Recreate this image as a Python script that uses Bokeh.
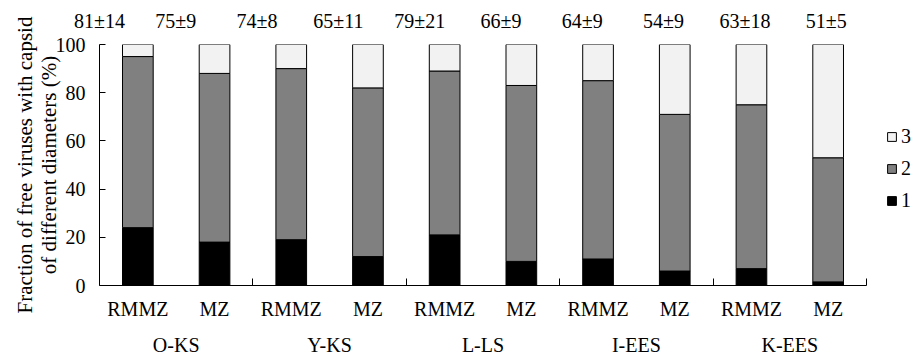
from bokeh.plotting import figure
from bokeh.models import (ColumnDataSource, FixedTicker, LinearAxis, Range1d,
                          Legend, LegendItem)
from bokeh.embed import file_html
from bokeh.resources import INLINE

# ---- data ----
groups = ["O-KS", "Y-KS", "L-LS", "I-EES", "K-EES"]
subs = ["RMMZ", "MZ"]
size1 = [24, 18, 19, 12, 21, 10, 11, 6, 7, 1.5]
size2 = [71, 70, 71, 70, 68, 73, 74, 65, 68, 51.5]
size3 = [5, 12, 10, 18, 11, 17, 15, 29, 25, 47]
top_labels = ["81±14", "75±9", "74±8", "65±11", "79±21",
              "66±9", "64±9", "54±9", "63±18", "51±5"]
y_ticks = [0, 20, 40, 60, 80, 100]

FONT = "Liberation Serif"
FS = "20px"
n = len(size1)
xs = [i + 0.5 for i in range(n)]
cats = [subs[i % 2] for i in range(n)]

src = ColumnDataSource(dict(x=xs, s1=size1, s2=size2, s3=size3))

# layout: bars occupy 767 px of the frame; the rest hosts the legend
W, H = 915, 358
BL, BT, BB = 99, 44, 72
frame_w = W - BL
bars_w = 767
x_end = n * frame_w / bars_w
# the mean±sd labels sit on their own evenly spaced scale above the frame
pitch = 81.3
top_start = 5 / pitch
top_end = top_start + frame_w / pitch

p = figure(width=W, height=H, output_backend="svg", toolbar_location=None,
           x_range=Range1d(0, x_end), y_range=Range1d(0, 100),
           min_border_left=BL, min_border_right=0, min_border_top=BT,
           min_border_bottom=BB)
p.extra_x_ranges = {"top": Range1d(top_start, top_end)}
p.outline_line_color = None
p.xgrid.visible = False
p.ygrid.visible = False
p.background_fill_color = "white"

rs = p.vbar_stack(["s1", "s2", "s3"], x="x", width=0.4, source=src,
                  color=["#000000", "#808080", "#f2f2f2"],
                  line_color="black", line_width=1)

# y axis
ya = p.yaxis[0]
ya.ticker = FixedTicker(ticks=y_ticks)
ya.major_tick_in = 6
ya.major_tick_out = 0
ya.minor_tick_line_color = None
ya.axis_line_color = "black"
ya.major_label_text_font = FONT
ya.major_label_text_font_size = FS
ya.major_label_text_color = "black"
ya.major_label_standoff = 14
ya.axis_label = "Fraction of free viruses with capsid\nof different diameters (%)"
ya.axis_label_text_font = FONT
ya.axis_label_text_font_size = "21px"
ya.axis_label_text_font_style = "normal"
ya.axis_label_text_color = "black"
ya.axis_label_text_line_height = 1.0
ya.axis_label_standoff = -8

# x axis (sub categories + boundary ticks)
xa = p.xaxis[0]
xa.bounds = (0, n)
xa.ticker = FixedTicker(ticks=xs, minor_ticks=[2 * (g + 1) for g in range(len(groups))])
xa.major_label_overrides = {x: c for x, c in zip(xs, cats)}
xa.major_tick_line_color = None
xa.major_tick_in = 0
xa.major_tick_out = 0
xa.minor_tick_in = 7
xa.minor_tick_out = 0
xa.minor_tick_line_color = "black"
xa.axis_line_color = "black"
xa.major_label_text_font = FONT
xa.major_label_text_font_size = FS
xa.major_label_text_color = "black"
xa.major_label_standoff = 12

# group labels axis
gx = [2 * g + 1 for g in range(len(groups))]
ga = LinearAxis(ticker=FixedTicker(ticks=gx, minor_ticks=[]),
                major_label_overrides={x: g for x, g in zip(gx, groups)})
ga.axis_line_color = None
ga.major_tick_line_color = None
ga.minor_tick_line_color = None
ga.major_tick_in = 0
ga.major_tick_out = 0
ga.major_label_text_font = FONT
ga.major_label_text_font_size = FS
ga.major_label_text_color = "black"
ga.major_label_standoff = 11
p.add_layout(ga, "below")

# top labels axis
tx = [max(float(i), top_start) for i in range(n)]
ta = LinearAxis(x_range_name="top", ticker=FixedTicker(ticks=tx, minor_ticks=[]),
                major_label_overrides={x: t for x, t in zip(tx, top_labels)})
ta.axis_line_color = None
ta.major_tick_line_color = None
ta.minor_tick_line_color = None
ta.major_tick_in = 0
ta.major_tick_out = 0
ta.major_label_text_font = FONT
ta.major_label_text_font_size = FS
ta.major_label_text_color = "black"
ta.major_label_standoff = 13
p.add_layout(ta, "above")

legend = Legend(items=[LegendItem(label="3", renderers=[rs[2]]),
                       LegendItem(label="2", renderers=[rs[1]]),
                       LegendItem(label="1", renderers=[rs[0]])],
                location=(787, 73), orientation="vertical")
legend.border_line_color = None
legend.background_fill_alpha = 0
legend.glyph_width = 11
legend.glyph_height = 11
legend.label_height = 11
legend.label_standoff = 4
legend.spacing = 9
legend.padding = 0
legend.margin = 0
legend.label_text_font = FONT
legend.label_text_font_size = FS
legend.label_text_color = "black"
p.add_layout(legend, "center")

open("out.html", "w").write(file_html(p, INLINE))
